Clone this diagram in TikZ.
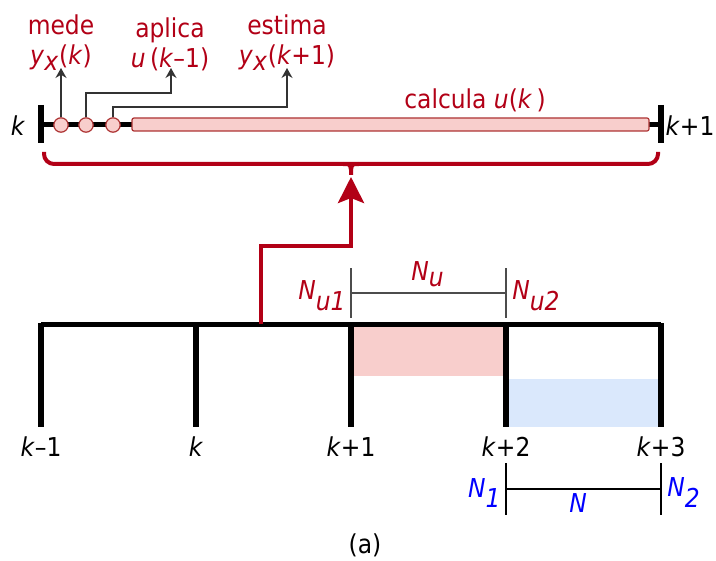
\documentclass[tikz,border=0pt]{standalone}
\usepackage{fontspec}
\setmainfont{DejaVu Sans Condensed}
\usepackage{tikz}
\usetikzlibrary{arrows.meta,positioning,calc}
\definecolor{mred}{RGB}{178,0,22}
\definecolor{mpink}{RGB}{248,206,204}
\definecolor{mblue}{RGB}{218,232,252}
\definecolor{mblu}{RGB}{0,0,255}

\begin{document}
\begin{tikzpicture}[
  x=0.5pt,y=-0.5pt,
  font=\fontsize{13}{15}\selectfont,
  tline/.style={line width=2.5pt,black},
  tick/.style={line width=2.6pt,black},
  dimline/.style={line width=0.6pt,black!70},
  dotnode/.style={circle,draw=red!60!black!80,fill=mpink,line width=0.6pt,
    minimum size=7.2pt,inner sep=0pt},
  small/.style={-{Stealth[length=5pt,width=5.5pt]},line width=0.6pt,black!80},
  rtxt/.style={text=mred,align=center,inner sep=1pt},
  btxt/.style={text=mblu,inner sep=1pt},
  lbl/.style={inner sep=1pt},
  bigarrow/.style={-{Stealth[length=13pt,width=13pt,inset=2.5pt]},line width=2pt,mred}
]
\useasboundingbox (0,0) rectangle (716,561);

% ── Linha do período de amostragem (topo) ────────────────────────────────────
\draw[tline] (41,125) -- (661,125);
\draw[tick] (41,105) -- (41,143);
\draw[tick] (661,105) -- (661,143);
\node[lbl] (lk) at (18,126) {\textit{k}};
\node[lbl] (lk1) at (690,126) {\textit{k}+1};

% barra de cálculo
\draw[draw=red!60!black!80,fill=mpink,line width=0.6pt,rounded corners=1pt]
  (132,118) rectangle (649,131);
\node[rtxt] (lcalc) at (475,100) {calcula \textit{u}(\textit{k}\,)};

% pontos de medição / aplicação / estimação
\node[dotnode] (c1) at (61,125) {};
\node[dotnode] (c2) at (86,125) {};
\node[dotnode] (c3) at (113,125) {};

\node[rtxt,anchor=south,inner sep=0pt] (lmede) at (61,71)
  {mede\\\textit{y}$_{\textit{x}}$(\textit{k})};
\node[rtxt,anchor=south,inner sep=0pt] (laplica) at (170,71)
  {aplica\\\textit{u}\,(\textit{k}–1)};
\node[rtxt,anchor=south,inner sep=0pt] (lestima) at (287,71)
  {estima\\\textit{y}$_{\textit{x}}$(\textit{k}+1)};

\coordinate (t1) at (61,68);
\coordinate (t2) at (171,68);
\coordinate (t3) at (287,68);
\draw[small] (c1.north) -- (t1);
\draw[small] (c2.north) |- ($(t2)+(0,25)$) -- (t2);
\draw[small] (c3.north) |- ($(t3)+(0,39)$) -- (t3);

% chave
\coordinate (bl) at (44,152);
\coordinate (br) at (658,152);
\coordinate (btip) at (351,175);
\draw[mred,line width=2pt,rounded corners=5pt]
  (bl) -- (44,164) -- (658,164) -- (br);
\draw[mred,line width=2pt]
  (343,164) .. controls (350,164) .. (351,170) -- (btip);
\draw[mred,line width=2pt]
  (359,164) .. controls (352,164) .. (351,170);

% ── Linha do horizonte (baixo) ───────────────────────────────────────────────
\fill[mpink] (353,326) rectangle (504,376);
\fill[mblue] (508,379) rectangle (659,427);

\draw[tline] (41,324) -- (661,324);
\foreach \x/\t [count=\i] in {41/\textit{k}–1,196/\textit{k},351/\textit{k}+1,
                               506/\textit{k}+2,661/\textit{k}+3}{
  \draw[tick] (\x,323) -- (\x,427);
  \node[lbl,anchor=north] (s\i) at (\x,434) {\t};
}

% seta vermelha
\coordinate (src) at (261,324);
\coordinate (atip) at (351,177);
\draw[bigarrow] (src) |- (351,246) -- (atip);

% ── Horizonte de controle N_u ────────────────────────────────────────────────
\draw[dimline] (351,268) -- (351,318);
\draw[dimline] (506,268) -- (506,318);
\draw[dimline] (351,293) -- (506,293);
\node[rtxt] (nu) at (428,274) {\textit{N}$_{\textit{u}}$};
\node[rtxt,anchor=east] (nu1) at (349,296) {\textit{N}$_{\textit{u1}}$};
\node[rtxt,anchor=west] (nu2) at (510,296) {\textit{N}$_{\textit{u2}}$};

% ── Horizonte de predição N ──────────────────────────────────────────────────
\draw[dimline,black] (506,463) -- (506,515);
\draw[dimline,black] (661,463) -- (661,515);
\draw[dimline,black] (506,489) -- (661,489);
\node[btxt] (nn) at (578,503) {\textit{N}};
\node[btxt,anchor=east] (n1) at (504,493) {\textit{N}$_{\textit{1}}$};
\node[btxt,anchor=west] (n2) at (665,493) {\textit{N}$_{\textit{2}}$};

\node[lbl] (cap) at (365,545) {(a)};
\end{tikzpicture}
\end{document}
